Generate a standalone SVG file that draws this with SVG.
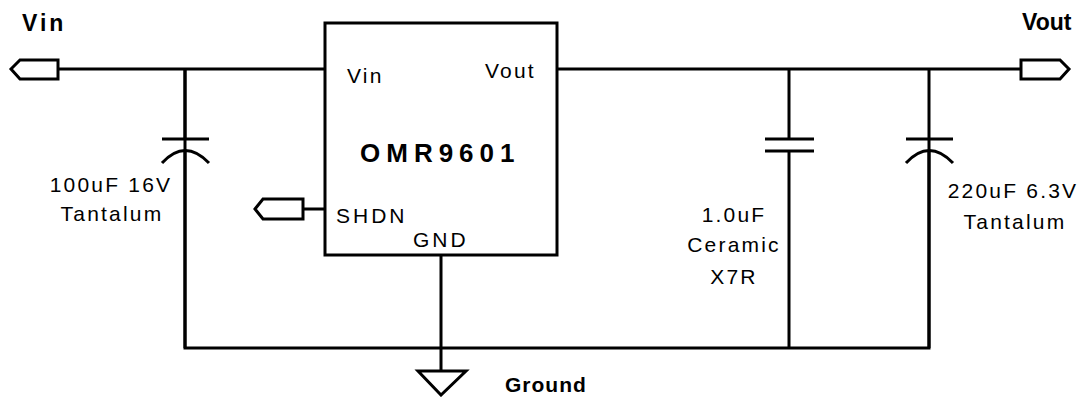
<svg xmlns="http://www.w3.org/2000/svg" width="1086" height="397" viewBox="0 0 1086 397">
<style>
.w{fill:none;stroke:#000;stroke-width:3}
.p{fill:#fff;stroke:#000;stroke-width:3;stroke-linejoin:miter}
.t{font-family:"Liberation Sans",Arial,sans-serif;font-size:21px;letter-spacing:2.2px;fill:#000}
.b{font-family:"Liberation Sans",Arial,sans-serif;font-weight:bold;font-size:23px;fill:#000}
</style>
<rect width="1086" height="397" fill="#fff"/>
<g id="connectors">
<path class="w" d="M58 69H325M557 69H1021M303 209H325M185 69V348H929V69M789 69V139M789 151V348M441 255V371"/>
<path class="w" d="M185 69V139M162 139H209M185 151V348M162 163Q185 138 209 163"/>
<path class="w" d="M906 139H953M929 151V348M906 163Q929 138 953 163"/>
<path class="w" d="M765 139H814M765 151H814"/>
</g>
<g id="vin-port"><path class="p" d="M11 69L20 60H58V79H20Z"/><text class="b" x="22" y="31" style="letter-spacing:3px">Vin</text></g>
<g id="vout-port"><path class="p" d="M1021 60H1060L1069 69L1060 79H1021Z"/><text class="b" x="1022" y="30">Vout</text></g>
<g id="shdn-port"><path class="p" d="M255 209L263 199H303V219H263Z"/></g>
<g id="ic">
<rect x="325" y="23" width="232" height="232" fill="#fff" stroke="#000" stroke-width="3"/>
<text class="t" x="347" y="83">Vin</text>
<text class="t" x="485" y="78">Vout</text>
<text class="b" x="360" y="162" style="font-size:26px;letter-spacing:6px">OMR9601</text>
<text class="t" x="336" y="223" style="letter-spacing:3px">SHDN</text>
<text class="t" x="413" y="247" style="letter-spacing:3px">GND</text>
</g>
<g id="c1"><text class="t" x="111" y="192" text-anchor="middle">100uF 16V</text><text class="t" x="112" y="221" text-anchor="middle">Tantalum</text></g>
<g id="c2"><text class="t" x="734" y="222" text-anchor="middle">1.0uF</text><text class="t" x="734" y="252" text-anchor="middle">Ceramic</text><text class="t" x="734" y="284" text-anchor="middle">X7R</text></g>
<g id="c3"><text class="t" x="1013" y="198" text-anchor="middle">220uF 6.3V</text><text class="t" x="1015" y="229" text-anchor="middle">Tantalum</text></g>
<g id="ground"><path class="p" d="M418 371H466L441 395Z"/><text class="b" x="505" y="392" style="font-size:21px;letter-spacing:1px">Ground</text></g>
</svg>
